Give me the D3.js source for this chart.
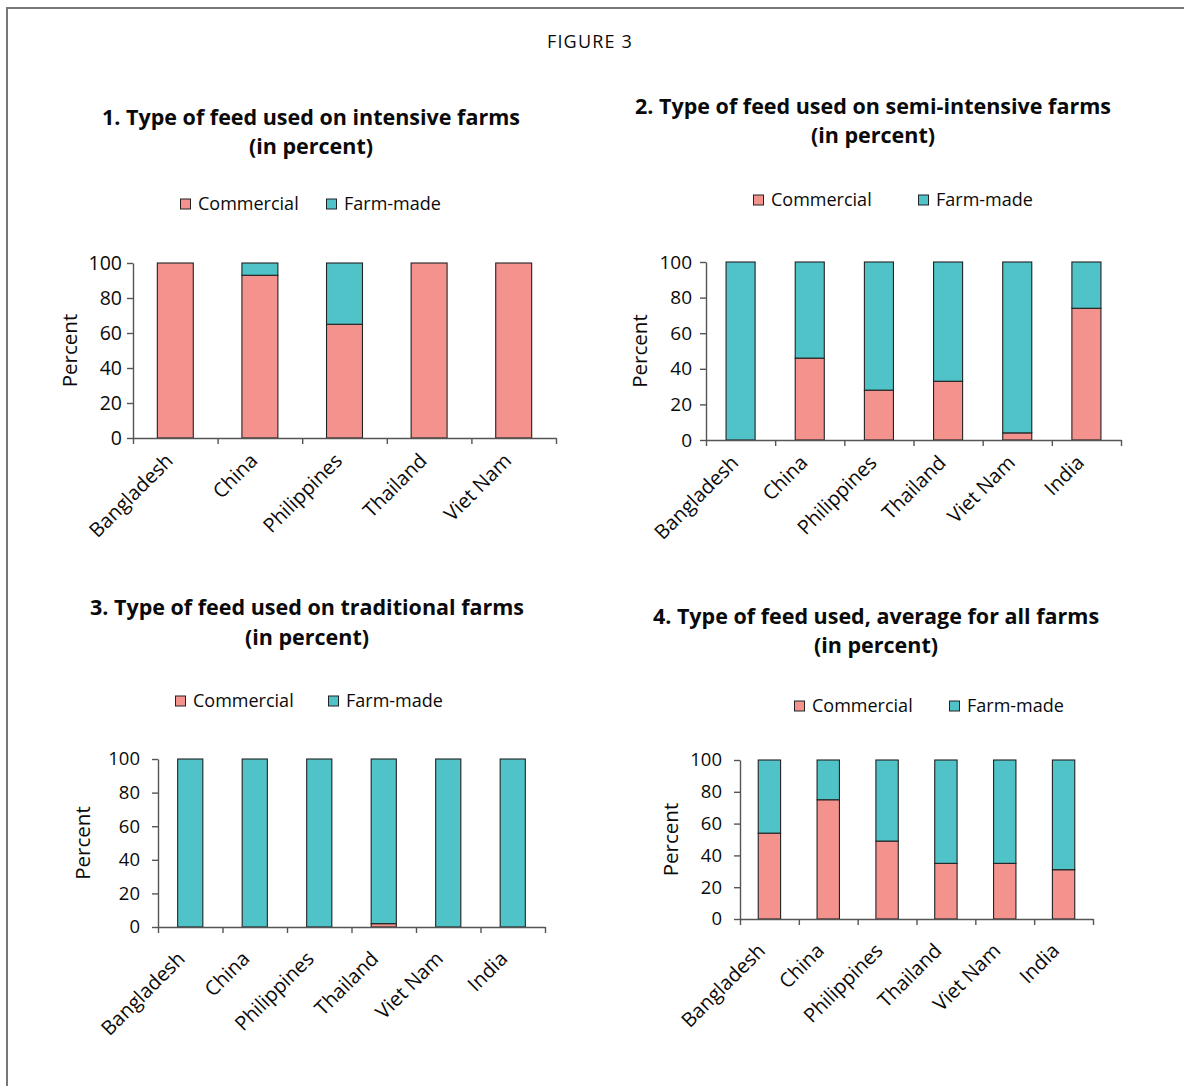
<!DOCTYPE html>
<html>
<head>
<meta charset="utf-8">
<script src="https://cdn.jsdelivr.net/npm/d3@7"></script>
<style>
  html, body { margin: 0; padding: 0; background: #fff; }
  svg { display: block; font-family: "Open Sans", "Noto Sans", sans-serif; }
</style>
</head>
<body>
<svg id="figure" width="1184" height="1086"></svg>
<script>
// data (percent)
const countries5 = ["Bangladesh", "China", "Philippines", "Thailand", "Viet Nam"];
const countries6 = ["Bangladesh", "China", "Philippines", "Thailand", "Viet Nam", "India"];
const seriesNames = ["Commercial", "Farm-made"];
const yTicks = [0, 20, 40, 60, 80, 100];

const intensiveCommercial = [100, 93, 65, 100, 100];
const intensiveFarmMade = [0, 7, 35, 0, 0];

const semiCommercial = [0, 46, 28, 33, 4, 74];
const semiFarmMade = [100, 54, 72, 67, 96, 26];

const traditionalCommercial = [0, 0, 0, 2, 0, 0];
const traditionalFarmMade = [100, 100, 100, 98, 100, 100];

const averageCommercial = [54, 75, 49, 35, 35, 31];
const averageFarmMade = [46, 25, 51, 65, 65, 69];

const COMMERCIAL_FILL = "#f4938e";
const FARM_FILL = "#50c3c8";
const BAR_STROKE = "#222";
const AXIS_STROKE = "#555";
const TEXT_FILL = "#0a0a0a";

const svg = d3.select("#figure");

// frame round the figure
svg.append("path")
  .attr("d", "M7,1086V8H1184")
  .attr("fill", "none")
  .attr("stroke", "#777")
  .attr("stroke-width", 2);

svg.append("text")
  .attr("x", 590)
  .attr("y", 48)
  .attr("text-anchor", "middle")
  .attr("font-size", 18)
  .attr("letter-spacing", 1.2)
  .attr("fill", TEXT_FILL)
  .text("FIGURE 3");

const panels = [
  {
    title: ["1. Type of feed used on intensive farms", "(in percent)"],
    titleX: 311, titleY: [125, 154],
    legend: { y: 204, items: [180, 326] },
    categories: countries5,
    commercial: intensiveCommercial,
    farm: intensiveFarmMade,
    x0: 133, x1: 556, yTop: 263, yBottom: 438,
    barFrac: 0.425, tickFont: 19.5, tickGap: 11, labelDx: -1, labelDy: 24,
    yLabelX: 70
  },
  {
    title: ["2. Type of feed used  on semi-intensive farms", "(in percent)"],
    titleX: 873, titleY: [114, 143],
    legend: { y: 200, items: [753, 918] },
    categories: countries6,
    commercial: semiCommercial,
    farm: semiFarmMade,
    x0: 706, x1: 1121, yTop: 262, yBottom: 440,
    barFrac: 0.42, tickFont: 19, tickGap: 14, labelDx: -1, labelDy: 24,
    yLabelX: 640
  },
  {
    title: ["3. Type of feed used on traditional farms", "(in percent)"],
    titleX: 307, titleY: [615, 645],
    legend: { y: 701, items: [175, 328] },
    categories: countries6,
    commercial: traditionalCommercial,
    farm: traditionalFarmMade,
    x0: 158, x1: 545, yTop: 759, yBottom: 927,
    barFrac: 0.39, tickFont: 18.5, tickGap: 18, labelDx: -4, labelDy: 33,
    yLabelX: 83
  },
  {
    title: ["4. Type of feed used, average for all farms", "(in percent)"],
    titleX: 876, titleY: [624, 653],
    legend: { y: 706, items: [794, 949] },
    categories: countries6,
    commercial: averageCommercial,
    farm: averageFarmMade,
    x0: 740, x1: 1093, yTop: 760, yBottom: 919,
    barFrac: 0.38, tickFont: 18.5, tickGap: 18, labelDx: -3, labelDy: 33,
    yLabelX: 671
  }
];

function drawPanel(p) {
  const g = svg.append("g");

  // title
  g.selectAll("text.title")
    .data(p.title)
    .join("text")
    .attr("class", "title")
    .attr("x", p.titleX)
    .attr("y", (d, i) => p.titleY[i])
    .attr("text-anchor", "middle")
    .attr("font-size", 21.5)
    .attr("font-weight", 700)
    .attr("fill", TEXT_FILL)
    .text((d) => d);

  // legend
  const legend = g.selectAll("g.legend-item")
    .data(seriesNames)
    .join("g")
    .attr("class", "legend-item")
    .attr("transform", (d, i) => `translate(${p.legend.items[i]},${p.legend.y})`);

  legend.append("rect")
    .attr("x", 0.5)
    .attr("y", -5)
    .attr("width", 10)
    .attr("height", 10)
    .attr("fill", (d, i) => (i === 0 ? COMMERCIAL_FILL : FARM_FILL))
    .attr("stroke", BAR_STROKE)
    .attr("stroke-width", 1);

  legend.append("text")
    .attr("x", 18)
    .attr("y", 0)
    .attr("dy", "0.35em")
    .attr("font-size", 18)
    .attr("fill", TEXT_FILL)
    .text((d) => d);

  // scales
  const x = d3.scaleBand()
    .domain(p.categories)
    .range([p.x0, p.x1])
    .paddingInner(1 - p.barFrac)
    .paddingOuter((1 - p.barFrac) / 2);

  const y = d3.scaleLinear()
    .domain([0, 100])
    .range([p.yBottom, p.yTop]);

  const rows = p.categories.map((c, i) => ({
    country: c,
    Commercial: p.commercial[i],
    "Farm-made": p.farm[i]
  }));

  const stacked = d3.stack().keys(seriesNames)(rows);

  g.append("g")
    .selectAll("g")
    .data(stacked)
    .join("g")
    .attr("fill", (s, i) => (i === 0 ? COMMERCIAL_FILL : FARM_FILL))
    .selectAll("rect")
    .data((s) => s)
    .join("rect")
    .attr("x", (d) => x(d.data.country))
    .attr("y", (d) => y(d[1]))
    .attr("width", x.bandwidth())
    .attr("height", (d) => y(d[0]) - y(d[1]))
    .attr("stroke", BAR_STROKE)
    .attr("stroke-width", 1.1);

  // y axis
  const yAxis = g.append("g")
    .attr("transform", `translate(${p.x0},0)`)
    .call(d3.axisLeft(y).tickValues(yTicks).tickSize(6).tickSizeOuter(0).tickPadding(p.tickGap - 6));

  yAxis.select(".domain").attr("stroke", AXIS_STROKE).attr("stroke-width", 1.4);
  yAxis.selectAll(".tick line").attr("stroke", AXIS_STROKE).attr("stroke-width", 1.4);
  yAxis.selectAll(".tick text")
    .attr("font-family", "\"Open Sans\", sans-serif")
    .attr("font-size", p.tickFont)
    .attr("fill", TEXT_FILL);

  // x axis: ticks sit between the categories
  const xb = d3.scaleLinear()
    .domain([0, p.categories.length])
    .range([p.x0, p.x1]);

  const xAxis = g.append("g")
    .attr("transform", `translate(0,${p.yBottom})`)
    .call(d3.axisBottom(xb).tickValues(d3.range(p.categories.length + 1)).tickSize(6).tickSizeOuter(0).tickFormat(""));

  xAxis.select(".domain").attr("stroke", AXIS_STROKE).attr("stroke-width", 1.4);
  xAxis.selectAll(".tick line").attr("stroke", AXIS_STROKE).attr("stroke-width", 1.4);

  g.selectAll("text.cat")
    .data(p.categories)
    .join("text")
    .attr("class", "cat")
    .attr("text-anchor", "end")
    .attr("font-size", 20)
    .attr("fill", TEXT_FILL)
    .attr("transform", (d) => `translate(${x(d) + x.bandwidth() / 2 + p.labelDx},${p.yBottom + p.labelDy}) rotate(-45)`)
    .text((d) => d);

  // y axis title
  g.append("text")
    .attr("transform", `translate(${p.yLabelX},${(p.yTop + p.yBottom) / 2}) rotate(-90)`)
    .attr("text-anchor", "middle")
    .attr("dy", "0.35em")
    .attr("font-size", 20.5)
    .attr("fill", TEXT_FILL)
    .text("Percent");
}

panels.forEach(drawPanel);
</script>
</body>
</html>
